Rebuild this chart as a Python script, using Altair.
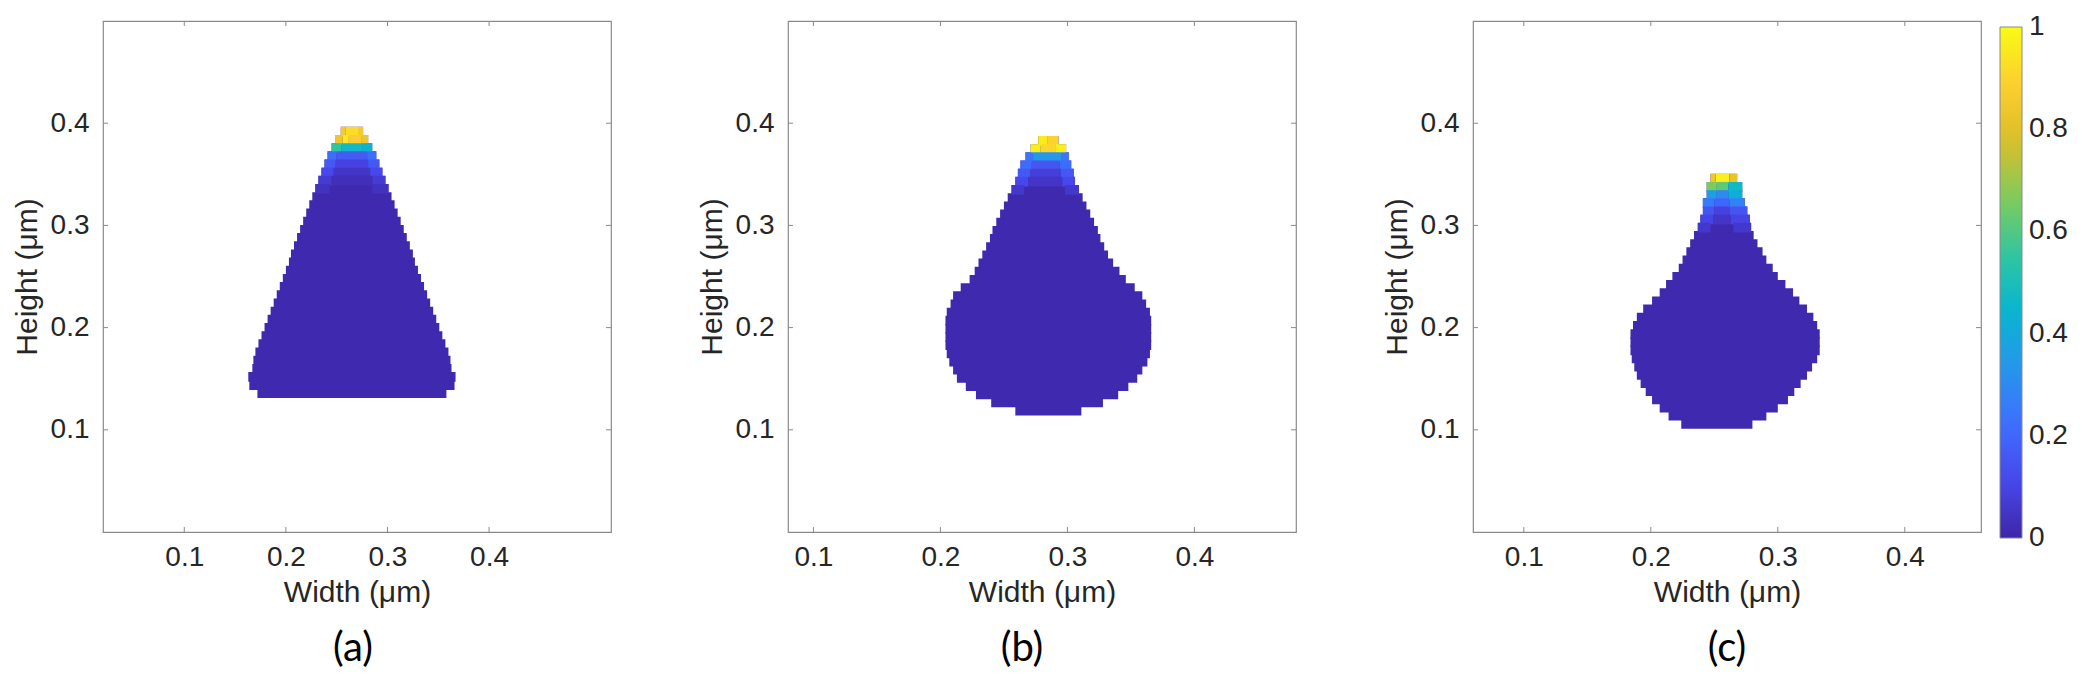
import altair as alt
import pandas as pd

# ---------------- data ----------------
# parula colormap stops (evenly spaced on 0..1)
PARULA = ["#3E26A8", "#4847EB", "#3E6FFF", "#2796EB", "#08B5D0",
          "#31C69F", "#80CC59", "#DCBD29", "#FCCF30", "#F9FB14"]

ROW_H = 0.008          # row height of the field grid (um)
OVERLAP = 0.0015       # small overlap so adjacent rows show no seam
BODY_VALUE = 0.01      # normalised field in the bulk of each shape

# (a) triangle: row bottoms, left / right edges
A_Y = [0.131, 0.139, 0.147, 0.155, 0.163, 0.171, 0.179, 0.187, 0.195, 0.203, 0.211,
       0.219, 0.227, 0.235, 0.243, 0.251, 0.259, 0.267, 0.275, 0.283, 0.291, 0.299,
       0.307, 0.315, 0.323, 0.331, 0.339, 0.347, 0.355, 0.363, 0.371, 0.379, 0.387]
A_L = [0.172, 0.164, 0.163, 0.167, 0.168, 0.170, 0.173, 0.176, 0.179, 0.182, 0.185,
       0.188, 0.191, 0.194, 0.197, 0.200, 0.203, 0.205, 0.208, 0.211, 0.214, 0.217,
       0.220, 0.223, 0.226, 0.229, 0.232, 0.235, 0.238, 0.241, 0.245, 0.249, 0.254]
A_R = [0.358, 0.366, 0.367, 0.363, 0.362, 0.360, 0.357, 0.354, 0.351, 0.348, 0.345,
       0.342, 0.339, 0.336, 0.333, 0.330, 0.327, 0.325, 0.322, 0.319, 0.316, 0.313,
       0.310, 0.307, 0.304, 0.301, 0.298, 0.295, 0.292, 0.289, 0.285, 0.281, 0.276]
# tip segments: (row bottom, x start, x end, value)
A_TIP = [(0.387, 0.254, 0.259, 0.86), (0.387, 0.259, 0.271, 0.92), (0.387, 0.271, 0.276, 0.86),
         (0.379, 0.249, 0.256, 0.84), (0.379, 0.256, 0.262, 0.95), (0.379, 0.262, 0.274, 0.88),
         (0.379, 0.274, 0.281, 0.84),
         (0.371, 0.245, 0.255, 0.55), (0.371, 0.255, 0.275, 0.47), (0.371, 0.275, 0.285, 0.45),
         (0.363, 0.241, 0.250, 0.22), (0.363, 0.250, 0.280, 0.17), (0.363, 0.280, 0.289, 0.22),
         (0.355, 0.238, 0.249, 0.16), (0.355, 0.249, 0.281, 0.09), (0.355, 0.281, 0.292, 0.16),
         (0.347, 0.235, 0.247, 0.11), (0.347, 0.247, 0.283, 0.05), (0.347, 0.283, 0.295, 0.11),
         (0.339, 0.232, 0.245, 0.07), (0.339, 0.245, 0.285, 0.03), (0.339, 0.285, 0.298, 0.07),
         (0.331, 0.229, 0.243, 0.04), (0.331, 0.285, 0.301, 0.04)]

# (b) pear shape
B_Y = [0.114, 0.122, 0.130, 0.138, 0.146, 0.154, 0.162, 0.170, 0.178, 0.186, 0.194,
       0.202, 0.210, 0.218, 0.226, 0.234, 0.242, 0.250, 0.258, 0.266, 0.274, 0.282,
       0.290, 0.298, 0.306, 0.314, 0.322, 0.330, 0.338, 0.346, 0.354, 0.362, 0.370, 0.378]
B_L = [0.259, 0.240, 0.228, 0.220, 0.213, 0.210, 0.207, 0.205, 0.204, 0.204, 0.204,
       0.204, 0.205, 0.208, 0.210, 0.216, 0.223, 0.227, 0.230, 0.233, 0.236, 0.239,
       0.241, 0.244, 0.247, 0.250, 0.253, 0.256, 0.259, 0.261, 0.263, 0.267, 0.271, 0.277]
B_R = [0.311, 0.328, 0.340, 0.348, 0.355, 0.359, 0.363, 0.365, 0.366, 0.366, 0.366,
       0.366, 0.365, 0.362, 0.359, 0.353, 0.346, 0.341, 0.336, 0.332, 0.329, 0.326,
       0.324, 0.321, 0.318, 0.315, 0.312, 0.309, 0.306, 0.305, 0.303, 0.301, 0.299, 0.293]
B_TIP = [(0.378, 0.277, 0.284, 0.96), (0.378, 0.284, 0.293, 0.90),
         (0.370, 0.271, 0.279, 0.97), (0.370, 0.279, 0.291, 0.91), (0.370, 0.291, 0.299, 0.97),
         (0.362, 0.267, 0.273, 0.24), (0.362, 0.273, 0.295, 0.34), (0.362, 0.295, 0.301, 0.24),
         (0.354, 0.263, 0.272, 0.21), (0.354, 0.272, 0.294, 0.15), (0.354, 0.294, 0.303, 0.21),
         (0.346, 0.261, 0.271, 0.16), (0.346, 0.271, 0.295, 0.08), (0.346, 0.295, 0.305, 0.16),
         (0.338, 0.259, 0.269, 0.11), (0.338, 0.269, 0.296, 0.05), (0.338, 0.296, 0.306, 0.11),
         (0.330, 0.256, 0.266, 0.06), (0.330, 0.298, 0.309, 0.06)]

# (c) bulb shape with thin neck
C_Y = [0.101, 0.109, 0.117, 0.125, 0.133, 0.141, 0.149, 0.157, 0.165, 0.173, 0.181,
       0.189, 0.197, 0.205, 0.213, 0.221, 0.229, 0.237, 0.245, 0.253, 0.261, 0.269,
       0.277, 0.285, 0.293, 0.301, 0.309, 0.317, 0.325, 0.333, 0.341]
C_L = [0.224, 0.214, 0.207, 0.201, 0.196, 0.192, 0.189, 0.187, 0.185, 0.184, 0.184,
       0.184, 0.186, 0.189, 0.194, 0.201, 0.207, 0.212, 0.217, 0.222, 0.225, 0.228,
       0.231, 0.234, 0.237, 0.239, 0.241, 0.241, 0.244, 0.244, 0.247]
C_R = [0.280, 0.291, 0.300, 0.308, 0.313, 0.318, 0.323, 0.327, 0.331, 0.333, 0.333,
       0.333, 0.331, 0.328, 0.323, 0.317, 0.312, 0.306, 0.300, 0.296, 0.291, 0.288,
       0.284, 0.281, 0.279, 0.278, 0.276, 0.274, 0.272, 0.272, 0.268]
C_TIP = [(0.341, 0.247, 0.251, 0.84), (0.341, 0.251, 0.262, 0.97), (0.341, 0.262, 0.268, 0.82),
         (0.333, 0.244, 0.252, 0.66), (0.333, 0.252, 0.261, 0.62), (0.333, 0.261, 0.272, 0.47),
         (0.325, 0.244, 0.252, 0.36), (0.325, 0.252, 0.261, 0.30), (0.325, 0.261, 0.272, 0.42),
         (0.317, 0.241, 0.250, 0.26), (0.317, 0.250, 0.262, 0.20), (0.317, 0.262, 0.274, 0.27),
         (0.309, 0.241, 0.250, 0.15), (0.309, 0.250, 0.262, 0.09), (0.309, 0.262, 0.276, 0.15),
         (0.301, 0.239, 0.249, 0.10), (0.301, 0.249, 0.263, 0.05), (0.301, 0.263, 0.278, 0.10),
         (0.293, 0.237, 0.247, 0.06), (0.293, 0.265, 0.279, 0.06)]

X_DOMAINS = {"a": [0.02, 0.52], "b": [0.08, 0.48], "c": [0.06, 0.46]}
Y_DOMAIN = [0.0, 0.5]
TICKS = [0.1, 0.2, 0.3, 0.4]
CBAR_TICKS = [0, 0.2, 0.4, 0.6, 0.8, 1]
# colour domain padded by a hair so the end labels of the colour bar stay centred
C_DOMAIN = [-0.0005, 1.0005]

# ---------------- layout / style ----------------
W, H = 508, 511
AX_FONT = "Liberation Sans"
TXT = "#262626"
BOX = "#8a8a8a"
TL = 5  # inner tick length (px)


def base_frame(ys, ls, rs):
    return pd.DataFrame({"y0": ys, "y1": [y + ROW_H + OVERLAP for y in ys],
                         "x0": ls, "x1": rs, "v": [BODY_VALUE] * len(ys)})


def tip_frame(segs):
    return pd.DataFrame({"y0": [s[0] for s in segs],
                         "y1": [s[0] + ROW_H + OVERLAP for s in segs],
                         "x0": [s[1] for s in segs], "x1": [s[2] for s in segs],
                         "v": [s[3] for s in segs]})


cscale = alt.Scale(domain=C_DOMAIN, range=PARULA, interpolate="rgb")
legend = alt.Legend(title=None, type="gradient", orient="right", offset=11,
                    direction="vertical", gradientLength=H, gradientThickness=22,
                    values=CBAR_TICKS, format="~g", labelFont=AX_FONT, labelFontSize=28,
                    labelColor=TXT, labelOffset=7, labelOverlap=False, padding=6,
                    gradientStrokeColor=BOX, gradientStrokeWidth=1)


def panel(key, df_base, df_tip, title_dx):
    xs = alt.Scale(domain=X_DOMAINS[key], nice=False, zero=False)
    ys = alt.Scale(domain=Y_DOMAIN, nice=False, zero=False)
    xax = alt.Axis(title="Width (μm)", values=TICKS, format="~g", labelFlush=False)
    yax = alt.Axis(title="Height (μm)", values=TICKS, format="~g", labelFlush=False)
    enc = dict(
        x=alt.X("x0:Q", scale=xs, axis=xax), x2="x1:Q",
        y=alt.Y("y0:Q", scale=ys, axis=yax), y2="y1:Q",
        color=alt.Color("v:Q", scale=cscale, legend=legend),
    )
    body = alt.Chart(df_base).mark_rect().encode(**enc)
    tip = alt.Chart(df_tip).mark_rect().encode(**enc)

    tdf = pd.DataFrame({"t": TICKS})
    tx = alt.X("t:Q", scale=xs, axis=xax)
    ty = alt.Y("t:Q", scale=ys, axis=yax)
    rule = dict(color=BOX, strokeWidth=1)
    t_top = alt.Chart(tdf).mark_rule(**rule).encode(x=tx, y=alt.value(0), y2=alt.value(TL))
    t_bot = alt.Chart(tdf).mark_rule(**rule).encode(x=tx, y=alt.value(H), y2=alt.value(H - TL))
    t_lft = alt.Chart(tdf).mark_rule(**rule).encode(y=ty, x=alt.value(0), x2=alt.value(TL))
    t_rgt = alt.Chart(tdf).mark_rule(**rule).encode(y=ty, x=alt.value(W), x2=alt.value(W - TL))

    return alt.layer(body, tip, t_top, t_bot, t_lft, t_rgt).properties(
        width=W, height=H,
        title=alt.TitleParams(text=f"({key})", orient="bottom", anchor="middle",
                              font="Lato", fontSize=40, fontWeight="normal",
                              color="black", offset=22, dx=title_dx),
    )


pa = panel("a", base_frame(A_Y, A_L, A_R), tip_frame(A_TIP), -4)
pb = panel("b", base_frame(B_Y, B_L, B_R), tip_frame(B_TIP), -20)
pc = panel("c", base_frame(C_Y, C_L, C_R), tip_frame(C_TIP), 0)

chart = alt.hconcat(pa, pb, pc, spacing=83).resolve_scale(
    x="independent", y="independent", color="shared"
).properties(
    padding={"left": 3, "top": 11, "right": 6, "bottom": 5},
    background="white",
).configure_view(
    stroke=BOX, strokeWidth=1.2
).configure_axis(
    grid=False, domain=False, ticks=False, tickSize=0,
    labelFont=AX_FONT, labelFontSize=28, labelColor=TXT,
    titleFont=AX_FONT, titleFontSize=30, titleColor=TXT, titleFontWeight="normal",
).configure_axisX(
    labelPadding=11, titlePadding=6,
).configure_axisY(
    labelPadding=14, titlePadding=8,
).configure_legend(
    gradientVerticalMaxLength=H, gradientVerticalMinLength=H,
)

chart.save("out.html", embed_options={"renderer": "svg", "actions": False})
